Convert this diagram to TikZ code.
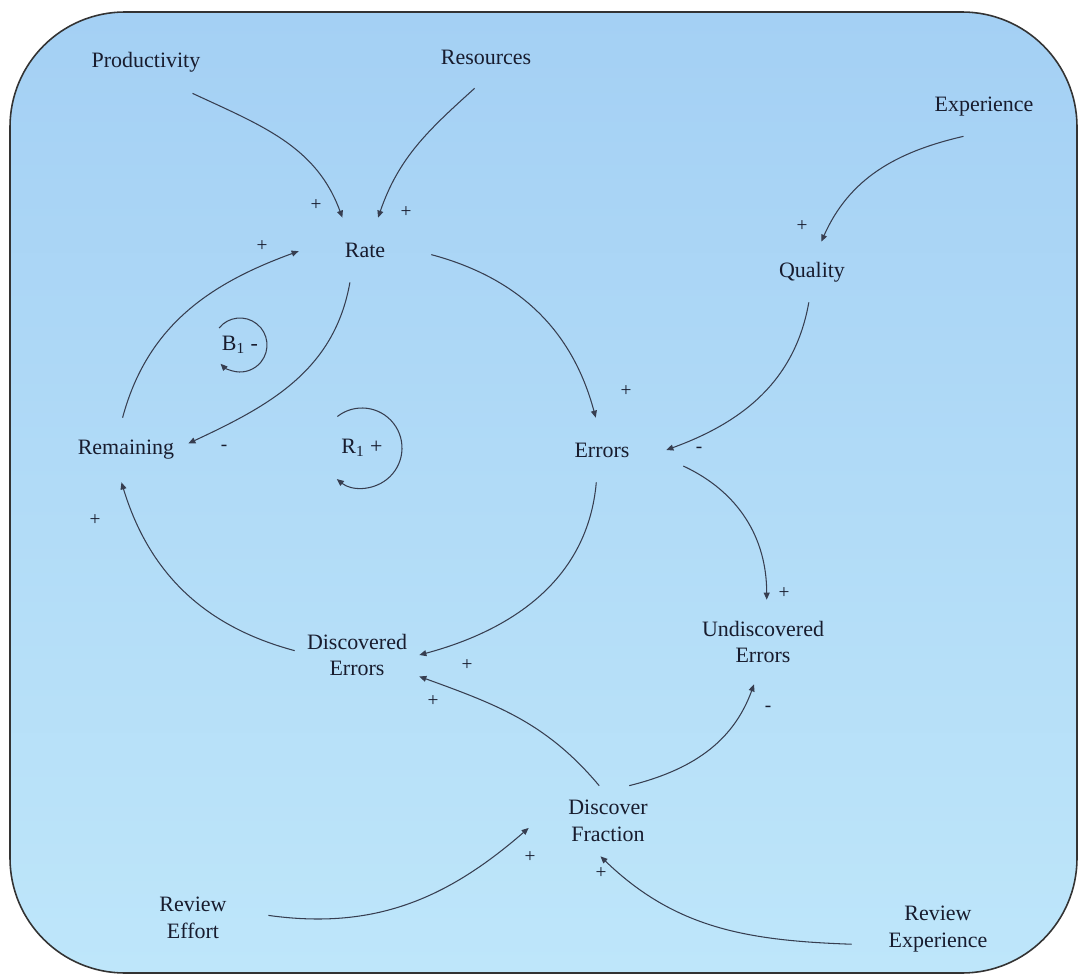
\documentclass[tikz,border=0pt]{standalone}
\usepackage{fontspec}
\setmainfont{Liberation Serif}
\usetikzlibrary{arrows.meta}
\definecolor{bgtop}{RGB}{164,208,244}
\definecolor{bgbot}{RGB}{190,230,250}
\definecolor{ink}{RGB}{24,28,46}
\definecolor{wire}{RGB}{55,62,80}

\begin{document}
\begin{tikzpicture}[x=0.02cm, y=0.02cm,
    var/.style={rectangle, inner sep=0pt, align=center, text=ink, font=\fontsize{12.5}{15}\selectfont},
    link/.style={draw=wire, line width=0.6pt, -{Triangle[length=4pt, width=3.4pt]}},
    sign/.style={text=ink, inner sep=0pt, font=\fontsize{11}{12}\selectfont},
]
    \useasboundingbox (0,0) rectangle (1081,-976);
    \shade[top color=bgtop, bottom color=bgbot, draw=black!80, line width=0.9pt, rounded corners=2.3cm] (10,-12) rectangle (1077,-973);

    % variables
    \node[var, minimum width=2.4cm, minimum height=1.24cm] (prod) at (146,-62) {Productivity};
    \node[var, minimum width=2.2cm, minimum height=1.24cm] (res) at (486,-57) {Resources};
    \node[var, minimum width=2.4cm, minimum height=1.16cm] (exp) at (984,-107) {Experience};
    \node[var, minimum width=2.64cm, minimum height=1.28cm] (rate) at (365,-250) {Rate};
    \node[var, minimum width=1.6cm, minimum height=1.2cm] (qual) at (812,-272) {Quality};
    \node[var, minimum width=2.48cm, minimum height=1.28cm] (rem) at (126,-450) {Remaining};
    \node[var, minimum width=2.56cm, minimum height=1.28cm] (err) at (602,-450) {Errors};
    \node[var, minimum width=2.48cm, minimum height=1.2cm] (disc) at (357,-655) {Discovered\\Errors};
    \node[var, minimum width=2.64cm, minimum height=1.68cm] (undisc) at (763,-642) {Undiscovered\\Errors};
    \node[var, minimum width=3.16cm, minimum height=1.4cm] (frac) at (608,-821) {Discover\\Fraction};
    \node[var, minimum width=3.0cm, minimum height=1.2cm] (effort) at (193,-918) {Review\\Effort};
    \node[var, minimum width=3.44cm, minimum height=1.2cm] (revexp) at (938,-929) {Review\\Experience};

    % causal links
    \draw[link] (prod.-34) to[out=-25, in=110] (rate.125);
    \draw[link] (res.-110) to[out=-138, in=71] (rate.68);
    \draw[link] (exp.-125) to[out=-167, in=66] (qual.73);
    \draw[link] (rem.96) to[out=75, in=200] (rate.181);
    \draw[link] (rate.-115) to[out=-100, in=25] (rem.6);
    \draw[link] (rate.-4) to[out=-15, in=105] (err.101);
    \draw[link] (qual.-96) to[out=-100, in=20] (err.0);
    \draw[link] ([xshift=0.34cm]err.-14) to[out=-25, in=90] (undisc.85);
    \draw[link] (err.-100) to[out=-95, in=15] (disc.0);
    \draw[link] (disc.176) to[out=165, in=-73] (rem.-98);
    \draw[link] (frac.104) to[out=130, in=-20] (disc.-19);
    \draw[link] (frac.59) to[out=14, in=-110] (undisc.-102);
    \draw[link] (effort.2) to[out=-8, in=-139] (frac.185);
    \draw[link] (revexp.-170) to[out=178, in=-44] (frac.-102);

    % polarities
    \foreach \x/\y/\s [count=\i] in {316/205/+, 406/212/+, 262/246/+, 802/226/+, 626/391/+,
        224/448/-, 699/450/-, 95/520/+, 784/593/+, 467/665/+, 433/701/+, 768/709/-,
        530/857/+, 601/873/+}
        \node[sign] (sign\i) at (\x,-\y) {\s};

    % loop markers
    \node[var] (b1) at (240,-345) {B\textsubscript{1} -};
    \draw[link] ([shift={(141:27)}]b1.center) arc[start angle=141, end angle=-136, radius=27];
    \node[var] (r1) at (362,-448) {R\textsubscript{1} +};
    \draw[link] ([shift={(128:40)}]r1.center) arc[start angle=128, end angle=-129, radius=40];
\end{tikzpicture}
\end{document}
